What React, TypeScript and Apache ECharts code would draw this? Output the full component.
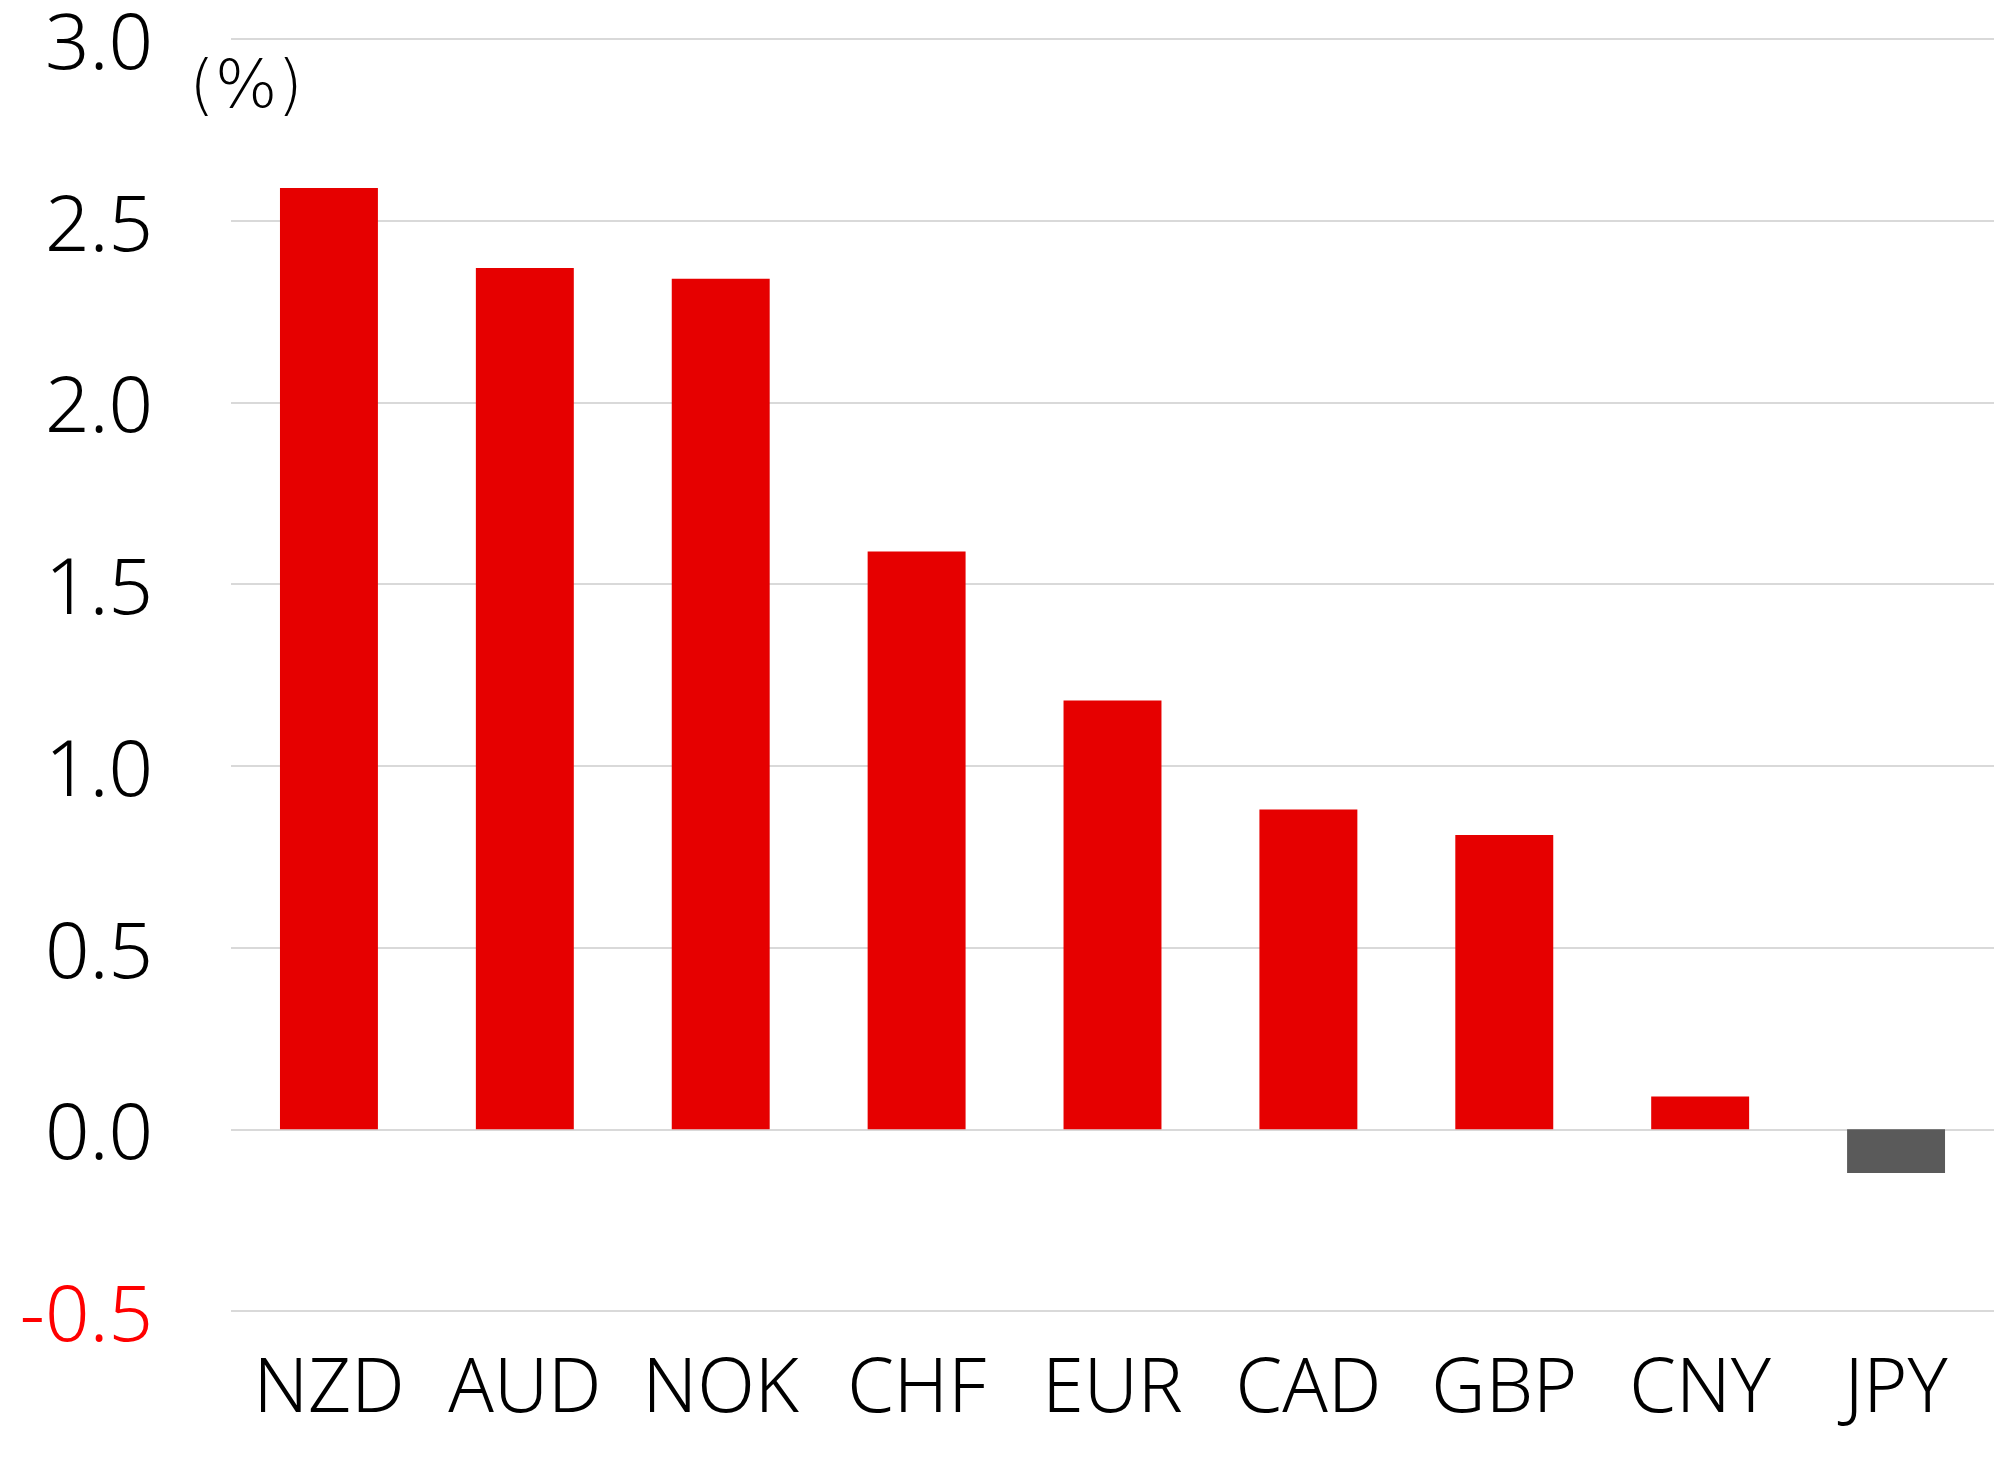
import React, { useEffect, useRef } from "react";
import * as echarts from "echarts";

const categories = ["NZD", "AUD", "NOK", "CHF", "EUR", "CAD", "GBP", "CNY", "JPY"];
const values = [2.59, 2.37, 2.34, 1.59, 1.18, 0.88, 0.81, 0.09, -0.12];
const unitLabel = "(%)";
const yMin = -0.5;
const yMax = 3.0;
const yStep = 0.5;

const FONT = "'Noto Sans', 'Noto Sans CJK JP', sans-serif";

export default function App() {
  const ref = useRef<HTMLDivElement>(null);
  useEffect(() => {
    if (!ref.current) return;
    const chart = echarts.init(ref.current, undefined, { renderer: "svg" });
    chart.setOption({
      animation: false,
      backgroundColor: "#ffffff",
      grid: { left: 231, right: 0, top: 33, bottom: 152, containLabel: false },
      xAxis: {
        type: "category",
        data: categories,
        axisLine: { show: false },
        axisTick: { show: false },
        axisLabel: {
          fontFamily: FONT,
          fontWeight: 300,
          fontSize: 75,
          color: "#000000",
          margin: 34,
          interval: 0,
        },
      },
      yAxis: {
        type: "value",
        min: yMin,
        max: yMax,
        interval: yStep,
        axisLine: { show: false },
        axisTick: { show: false },
        splitLine: { show: true, lineStyle: { color: "#d9d9d9", width: 2 } },
        axisLabel: {
          fontFamily: FONT,
          fontWeight: 300,
          fontSize: 78,
          lineHeight: 60,
          margin: 78,
          formatter: (v: number) => v.toFixed(1),
          color: (v: any) => (Number(v) < 0 ? "#ff0000" : "#000000"),
        },
      },
      graphic: [
        {
          type: "text",
          x: 246,
          y: 84,
          style: {
            text: unitLabel,
            fontFamily: "'DejaVu Sans', sans-serif",
            fontWeight: 300,
            fontSize: 66,
            fill: "#000000",
            align: "center",
            verticalAlign: "middle",
          },
        },
      ],
      series: [
        {
          type: "bar",
          barWidth: "50%",
          data: values.map((v) => ({
            value: v,
            itemStyle: { color: v < 0 ? "#5a5a5a" : "#e60000" },
          })),
        },
      ],
    });
    return () => chart.dispose();
  }, []);
  return (
    <div
      ref={ref}
      style={{ position: "fixed", left: 0, top: 0, width: 1994, height: 1463 }}
    />
  );
}
